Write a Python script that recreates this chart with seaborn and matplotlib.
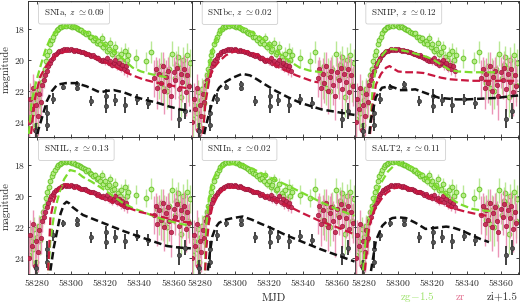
import numpy as np
import matplotlib
matplotlib.use("Agg")
import matplotlib.pyplot as plt
import seaborn as sns
from matplotlib.ticker import MultipleLocator

sns.set_style("ticks")
plt.rcParams["font.family"] = "serif"
plt.rcParams["font.serif"] = ["cmr10", "DejaVu Serif"]
plt.rcParams["mathtext.fontset"] = "cm"
plt.rcParams["axes.formatter.use_mathtext"] = True
plt.rcParams["axes.unicode_minus"] = False

# observed photometry (same object in every panel)
g_t = [58275.5, 58276.5, 58277.8, 58278.6, 58279.4, 58280.3, 58281.2, 58282.0, 58282.9, 58283.7,
       58284.6, 58285.4, 58286.3, 58287.1, 58288.0, 58288.9, 58289.8, 58290.7, 58291.6, 58292.5,
       58293.4, 58294.3, 58295.2, 58296.1, 58297.0, 58297.9, 58298.8, 58299.7, 58300.6, 58301.5,
       58302.4, 58303.3, 58304.2, 58305.1, 58306.0, 58307.0, 58308.0, 58309.0, 58310.0, 58311.0,
       58312.0, 58313.0, 58314.0, 58315.0, 58316.0, 58317.0, 58318.0, 58319.0, 58320.0, 58321.0,
       58322.0, 58323.0, 58324.0, 58325.0, 58326.0, 58327.5, 58328.5, 58329.5, 58330.5, 58331.5,
       58332.5, 58333.5, 58338.0, 58344.0, 58347.0, 58350.0, 58351.5, 58352.5, 58353.5, 58354.5,
       58356.0, 58357.0, 58359.0, 58360.5, 58361.5, 58362.5, 58363.5, 58364.5, 58365.5, 58366.5,
       58367.5, 58368.5, 58369.5]
g_m = [23.8, 22.9, 23.4, 22.1, 24.2, 22.6, 21.9, 22.8, 21.4, 21.0,
       20.6, 20.1, 19.7, 19.4, 19.0, 18.7, 18.5, 18.3, 18.1, 18.0,
       17.9, 17.85, 17.8, 17.75, 17.8, 17.7, 17.75, 17.8, 17.85, 17.8,
       17.9, 17.95, 18.0, 18.05, 18.1, 18.2, 18.25, 18.35, 18.3, 18.5,
       18.55, 18.7, 18.6, 18.9, 18.8, 19.0, 18.6, 19.2, 19.0, 19.4,
       19.3, 18.9, 19.6, 19.5, 19.2, 19.8, 20.0, 19.6, 20.2, 19.4,
       20.0, 19.7, 19.9, 20.1, 19.5, 20.8, 21.5, 20.4, 21.8, 20.9,
       22.0, 20.6, 19.6, 21.2, 20.3, 19.8, 20.5, 22.4, 20.0, 21.0,
       19.7, 21.6, 20.2]
g_e = [1.2, 0.9, 1.1, 0.8, 1.3, 0.9, 0.7, 1.0, 0.6, 0.5,
       0.4, 0.35, 0.3, 0.25, 0.2, 0.15, 0.15, 0.12, 0.1, 0.1,
       0.1, 0.08, 0.08, 0.08, 0.08, 0.08, 0.08, 0.08, 0.08, 0.08,
       0.1, 0.1, 0.1, 0.1, 0.1, 0.1, 0.12, 0.12, 0.15, 0.15,
       0.15, 0.2, 0.2, 0.2, 0.2, 0.25, 0.3, 0.25, 0.3, 0.3,
       0.3, 0.35, 0.3, 0.35, 0.4, 0.35, 0.4, 0.4, 0.4, 0.5,
       0.5, 0.5, 0.6, 0.6, 0.7, 0.8, 1.0, 0.9, 1.1, 1.0,
       1.2, 0.9, 0.8, 1.0, 0.9, 0.7, 0.8, 1.3, 0.8, 1.0,
       0.8, 1.1, 0.9]

r_t = [58275.3, 58276.1, 58277.0, 58277.9, 58278.8, 58279.6, 58280.5, 58281.4, 58282.3, 58283.2,
       58284.1, 58285.0, 58285.9, 58286.8, 58287.7, 58288.6, 58289.5, 58290.4, 58291.3, 58292.2,
       58293.1, 58294.0, 58295.0, 58296.0, 58297.0, 58298.0, 58299.0, 58300.0, 58301.0, 58302.0,
       58303.0, 58304.0, 58305.0, 58306.0, 58307.0, 58308.0, 58309.0, 58310.0, 58311.0, 58312.0,
       58313.0, 58314.0, 58315.0, 58316.0, 58317.0, 58318.0, 58319.0, 58320.0, 58321.0, 58322.0,
       58323.0, 58324.0, 58325.0, 58326.0, 58327.0, 58328.0, 58329.0, 58330.0, 58331.0, 58332.0,
       58333.0, 58348.5, 58349.5, 58350.5, 58351.5, 58352.5, 58353.5, 58354.5, 58355.5, 58356.5,
       58357.5, 58358.5, 58360.0, 58361.0, 58362.0, 58363.0, 58364.0, 58365.0, 58366.0, 58367.0,
       58368.0, 58369.0]
r_m = [24.0, 22.5, 23.2, 21.8, 24.5, 22.9, 23.6, 22.2, 22.7, 21.6,
       21.3, 21.0, 20.7, 20.4, 20.2, 20.0, 19.85, 19.7, 19.6, 19.5,
       19.45, 19.4, 19.35, 19.3, 19.35, 19.3, 19.35, 19.3, 19.35, 19.4,
       19.35, 19.4, 19.45, 19.5, 19.5, 19.55, 19.6, 19.65, 19.7, 19.75,
       19.7, 19.8, 19.9, 19.85, 20.0, 20.05, 20.0, 20.1, 19.9, 20.2,
       20.1, 20.3, 20.2, 20.0, 20.35, 20.2, 20.5, 20.3, 20.6, 20.4,
       20.7, 21.2, 20.6, 21.8, 20.9, 21.5, 20.4, 22.0, 21.1, 20.7,
       21.6, 22.3, 20.8, 21.3, 20.5, 21.9, 20.9, 21.4, 20.6, 22.1,
       21.0, 21.7]
r_e = [1.4, 1.0, 1.3, 0.9, 1.5, 1.1, 1.3, 0.9, 1.0, 0.7,
       0.5, 0.4, 0.35, 0.3, 0.25, 0.2, 0.15, 0.12, 0.1, 0.1,
       0.08, 0.08, 0.08, 0.08, 0.08, 0.08, 0.08, 0.08, 0.08, 0.08,
       0.08, 0.08, 0.08, 0.1, 0.1, 0.1, 0.1, 0.1, 0.12, 0.12,
       0.12, 0.12, 0.15, 0.15, 0.15, 0.15, 0.2, 0.2, 0.2, 0.2,
       0.25, 0.25, 0.25, 0.3, 0.3, 0.3, 0.3, 0.35, 0.35, 0.35,
       0.4, 1.2, 0.8, 1.4, 1.0, 1.3, 0.9, 1.5, 1.1, 0.9,
       1.3, 1.6, 1.0, 1.2, 0.9, 1.4, 1.0, 1.3, 0.9, 1.5,
       1.1, 1.3]

i_t = [58279.5, 58285.8, 58285.8, 58289.6, 58295.2, 58303.5, 58303.5, 58312.0, 58320.5, 58320.5,
       58325.5, 58331.5, 58338.3, 58345.0, 58363.0, 58366.5]
i_m = [24.6, 23.4, 24.2, 22.5, 21.75, 21.55, 21.8, 22.65, 22.3, 22.95,
       22.6, 22.9, 22.55, 22.8, 23.8, 23.3]
i_e = [0.5, 0.5, 0.4, 0.35, 0.2, 0.2, 0.2, 0.35, 0.4, 0.45,
       0.4, 0.5, 0.35, 0.4, 0.6, 0.5]

# template fits, one set per panel: (mjd knots, magnitude)
ia_g = ([58275, 58277, 58280, 58282, 58285, 58288, 58292, 58295, 58298, 58302, 58307, 58312, 58317, 58322, 58327, 58332, 58336, 58341, 58346, 58352, 58358],
        [25.5, 22.7, 21.3, 20.5, 19.4, 18.6, 18.1, 17.9, 17.8, 17.85, 18.1, 18.4, 18.8, 19.2, 19.6, 20.1, 20.5, 20.75, 20.9, 21.05, 21.15])
ia_r = ([58276, 58279, 58282, 58285, 58288, 58292, 58297, 58302, 58306, 58311, 58317, 58324, 58330, 58336, 58342, 58349, 58356, 58363, 58370],
        [25.5, 22.5, 21.1, 20.5, 20.0, 19.7, 19.45, 19.4, 19.45, 19.7, 20.0, 20.35, 20.7, 21.0, 21.25, 21.45, 21.6, 21.75, 21.85])
ia_i = ([58279, 58281, 58284, 58286, 58289, 58292, 58297, 58303, 58309, 58313, 58317, 58321, 58325, 58331, 58338, 58344, 58350, 58357, 58364, 58370],
        [25.5, 24.5, 23.4, 22.65, 22.0, 21.6, 21.5, 21.5, 21.7, 21.9, 22.1, 22.0, 21.95, 22.1, 22.4, 22.6, 22.75, 23.0, 23.2, 23.3])

ibc_g = ([58281, 58283, 58285, 58287, 58290, 58293, 58296, 58300, 58304, 58310, 58316, 58322, 58328, 58333, 58338, 58344, 58351],
         [25.5, 22.5, 20.6, 19.4, 18.5, 18.0, 17.8, 17.75, 17.9, 18.2, 18.6, 19.2, 19.75, 20.15, 20.5, 20.7, 20.8])
ibc_r = ([58281, 58283, 58285.5, 58288, 58291, 58295, 58301, 58307, 58313, 58319, 58326, 58331, 58336, 58341, 58346, 58349],
         [25.5, 22.8, 21.1, 20.5, 20.1, 19.7, 19.4, 19.45, 19.65, 20.0, 20.5, 20.75, 21.0, 21.2, 21.4, 21.45])
ibc_i = ([58281, 58283, 58285.5, 58288, 58291, 58295, 58299, 58304.5, 58309, 58313, 58318, 58324, 58331, 58338, 58345, 58351, 58359, 58367, 58370],
         [25.5, 24.4, 23.3, 22.4, 21.8, 21.4, 21.15, 20.9, 21.0, 21.25, 21.6, 22.0, 22.4, 22.75, 23.0, 23.2, 23.35, 23.5, 23.55])

iip_g = ([58283, 58285, 58287, 58290, 58293, 58296, 58300, 58305, 58310, 58315, 58320, 58325, 58330, 58335, 58343, 58351, 58359],
         [25.5, 22.0, 20.5, 19.8, 19.4, 19.3, 19.35, 19.45, 19.6, 19.75, 19.95, 20.3, 20.65, 20.75, 20.8, 20.8, 20.8])
iip_r = ([58283, 58285, 58287, 58290, 58293, 58295, 58297, 58300, 58305, 58310, 58315, 58320, 58325, 58330, 58336, 58343, 58350, 58360, 58370],
         [25.5, 23.0, 21.6, 20.9, 20.5, 20.4, 20.55, 20.75, 20.8, 20.8, 20.85, 21.0, 21.15, 21.25, 21.3, 21.35, 21.35, 21.35, 21.35])
iip_i = ([58282.5, 58284, 58287, 58290.5, 58295, 58298, 58301, 58305, 58310, 58315, 58320, 58324, 58329, 58334, 58340, 58349, 58358, 58365, 58370],
         [25.5, 23.9, 22.4, 21.8, 21.7, 21.8, 21.95, 21.95, 21.9, 22.1, 22.3, 22.45, 22.5, 22.55, 22.55, 22.5, 22.45, 22.35, 22.3])

iil_g = ([58286.5, 58288, 58290, 58292, 58294, 58296, 58299.5, 58303, 58307, 58312, 58317, 58323, 58330, 58336, 58342, 58349, 58356, 58363, 58370],
         [25.5, 22.85, 21.3, 20.3, 19.5, 18.9, 18.3, 18.4, 18.75, 19.05, 19.4, 19.85, 20.4, 20.75, 21.0, 21.3, 21.55, 21.75, 21.9])
iil_r = ([58286.5, 58288, 58290, 58292, 58294, 58296, 58299, 58303, 58307, 58315, 58323, 58331, 58340, 58348, 58356, 58363, 58370],
         [25.5, 21.4, 20.3, 19.7, 19.35, 19.2, 19.3, 19.45, 19.6, 19.95, 20.3, 20.65, 21.0, 21.2, 21.4, 21.6, 21.7])
iil_i = ([58287, 58288, 58290, 58292, 58294, 58296, 58297.5, 58299, 58301, 58304, 58307, 58315, 58323, 58331, 58340, 58348, 58356, 58363, 58370],
         [25.5, 24.8, 23.3, 22.2, 21.1, 20.5, 20.35, 20.45, 20.7, 20.95, 21.2, 21.55, 21.9, 22.25, 22.6, 22.9, 23.2, 23.3, 23.35])

iin_g = ([58282.5, 58283.6, 58285, 58287, 58290, 58293, 58297, 58301, 58306, 58312, 58320, 58330, 58340, 58350, 58360, 58370],
         [25.5, 21.8, 20.2, 19.0, 18.4, 18.1, 17.95, 17.9, 18.0, 18.3, 18.75, 19.25, 19.8, 20.35, 20.85, 21.25])
iin_r = ([58282.5, 58283.6, 58285, 58287, 58290, 58293, 58297, 58301, 58306, 58312, 58320, 58330, 58340, 58350, 58360, 58370],
         [25.5, 23.3, 21.7, 20.7, 20.0, 19.6, 19.45, 19.4, 19.5, 19.7, 20.05, 20.55, 21.1, 21.6, 22.0, 22.45])
iin_i = ([58283.5, 58284.3, 58285.5, 58287, 58289, 58291, 58295, 58299, 58304.7, 58310, 58315, 58320.5, 58330, 58340, 58350, 58360, 58370],
         [25.5, 24.9, 23.7, 22.6, 22.0, 21.7, 21.5, 21.4, 21.3, 21.5, 21.75, 22.0, 22.5, 22.95, 23.4, 23.8, 24.2])

salt_g = ([58279, 58281, 58283, 58285, 58288, 58290.7, 58294, 58298.7, 58303, 58308, 58314, 58320, 58325, 58330, 58336, 58343, 58348, 58354],
          [25.5, 22.85, 21.6, 20.7, 19.7, 19.0, 18.4, 17.9, 17.9, 18.1, 18.55, 19.1, 19.6, 20.1, 20.5, 20.8, 20.9, 20.95])
salt_r = ([58280, 58283, 58285, 58287, 58290, 58293, 58297, 58300.7, 58305, 58314, 58322, 58330, 58338, 58344, 58349, 58354],
          [25.5, 22.0, 21.2, 20.7, 20.2, 19.8, 19.5, 19.4, 19.45, 19.8, 20.25, 20.7, 20.95, 21.1, 21.2, 21.3])
salt_i = ([58282, 58284, 58287, 58290.7, 58294, 58296.6, 58300, 58304.5, 58310, 58316, 58320, 58324, 58328, 58331.6, 58337, 58343, 58348, 58353],
          [25.5, 24.9, 22.85, 21.9, 21.55, 21.4, 21.35, 21.4, 21.7, 22.1, 22.05, 22.0, 21.95, 22.0, 22.2, 22.5, 22.75, 22.95])

panel_labels = [r"SNIa, $z$ $\simeq$0.09", r"SNIbc, $z$ $\simeq$0.02", r"SNIIP, $z$ $\simeq$0.12",
                r"SNIIL, $z$ $\simeq$0.13", r"SNIIn, $z$ $\simeq$0.02", r"SALT2, $z$ $\simeq$0.11"]
panel_models = [(ia_g, ia_r, ia_i), (ibc_g, ibc_r, ibc_i), (iip_g, iip_r, iip_i),
                (iil_g, iil_r, iil_i), (iin_g, iin_r, iin_i), (salt_g, salt_r, salt_i)]

c_green = "#7ddc2e"
c_red = "#c8173f"
c_black = "#111111"

fig, axes = plt.subplots(2, 3, figsize=(5.2, 3.03), dpi=100, sharex=True, sharey=True)
fig.subplots_adjust(left=0.054, right=0.998, top=0.997, bottom=0.096, wspace=0, hspace=0)

for k, ax in enumerate(axes.flat):
    # data points
    ax.errorbar(g_t, g_m, yerr=g_e, fmt="o", ms=3.4, mfc="#b5ec85", mec="#62c21f", mew=0.7,
                ecolor="#b2e68a", elinewidth=1.0, alpha=0.9, zorder=2)
    ax.errorbar(r_t, r_m, yerr=r_e, fmt="o", ms=3.2, mfc="#c42450", mec="#9a1538", mew=0.5,
                ecolor="#e98ab0", elinewidth=1.0, alpha=0.9, zorder=3)
    ax.errorbar(i_t, i_m, yerr=i_e, fmt="o", ms=3.0, mfc="#555555", mec="#333333", mew=0.5,
                ecolor="#333333", elinewidth=1.3, zorder=4)

    # template fits
    mg, mr, mi = panel_models[k]
    sns.lineplot(x=mg[0], y=mg[1], ax=ax, sort=False, color=c_green, lw=1.6,
                 linestyle=(0, (3.5, 1.6)), zorder=5)
    sns.lineplot(x=mr[0], y=mr[1], ax=ax, sort=False, color=c_red, lw=1.6,
                 linestyle=(0, (3.5, 1.6)), zorder=6)
    sns.lineplot(x=mi[0], y=mi[1], ax=ax, sort=False, color=c_black, lw=1.8,
                 linestyle=(0, (3.0, 1.5)), zorder=7)

    ax.text(0.095, 0.91, panel_labels[k], transform=ax.transAxes, fontsize=6.6,
            ha="left", va="center", zorder=10,
            bbox=dict(boxstyle="round,pad=0.55,rounding_size=0.2", fc="white", ec="#d0d0d0", lw=0.6))

    ax.set_xlim(58275, 58370.5)
    ax.set_ylim(25.0, 16.2)
    ax.xaxis.set_major_locator(MultipleLocator(20))
    ax.xaxis.set_minor_locator(MultipleLocator(10))
    ax.yaxis.set_major_locator(MultipleLocator(2))
    ax.tick_params(which="both", direction="in", top=True, right=True, labelsize=7,
                   length=2.5, width=0.6, pad=2)
    ax.tick_params(which="minor", length=1.5)
    for s in ax.spines.values():
        s.set_linewidth(0.7)
        s.set_color("#333333")
    ax.set_xlabel("")
    ax.set_ylabel("")

axes[0, 0].set_ylabel("magnitude", fontsize=7.5, labelpad=2)
axes[1, 0].set_ylabel("magnitude", fontsize=7.5, labelpad=2)
axes[1, 1].set_xlabel("MJD", fontsize=8, labelpad=4)

fig.text(417 / 520, 0.02, r"zg$-$1.5", color="#9de36a", fontsize=8, ha="center", va="center")
fig.text(460 / 520, 0.02, "zr", color="#e27090", fontsize=8, ha="center", va="center")
fig.text(502 / 520, 0.02, "zi+1.5", color="#333333", fontsize=8, ha="center", va="center")

fig.savefig("out.png", dpi=100)
